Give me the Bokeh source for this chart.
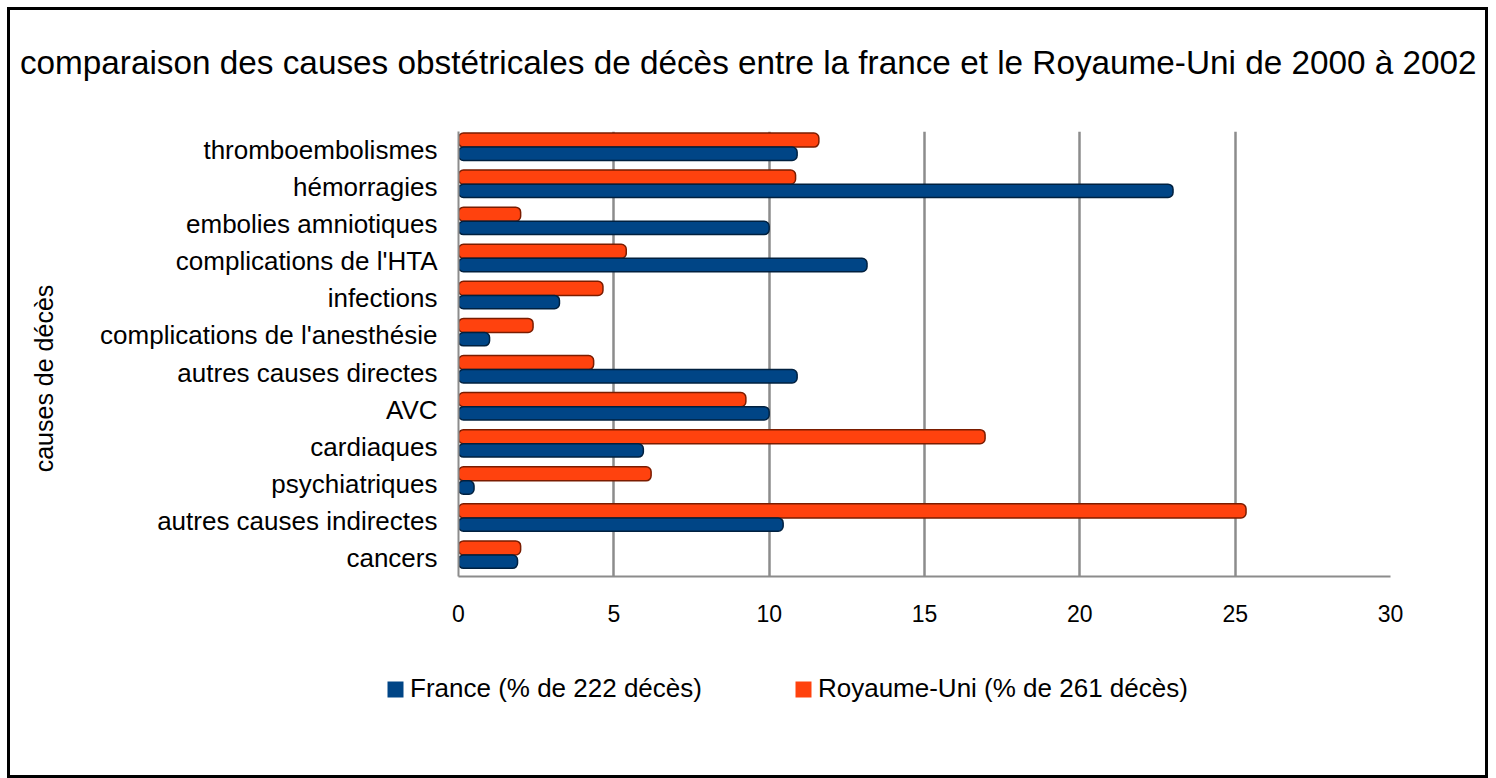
import math
from bokeh.plotting import figure
from bokeh.layouts import column, row
from bokeh.models import FactorRange, Range1d, ColumnDataSource, Legend, LegendItem, Label
from bokeh.transform import dodge
from bokeh.embed import file_html
from bokeh.resources import INLINE

categories = ["thromboembolismes", "hémorragies", "embolies amniotiques",
              "complications de l'HTA", "infections", "complications de l'anesthésie",
              "autres causes directes", "AVC", "cardiaques", "psychiatriques",
              "autres causes indirectes", "cancers"]
france = [10.9, 23.0, 10.0, 13.15, 3.25, 1.0, 10.9, 10.0, 5.95, 0.5, 10.45, 1.9]
royaume_uni = [11.6, 10.85, 2.0, 5.4, 4.65, 2.4, 4.35, 9.25, 16.95, 6.2, 25.35, 2.0]
x_ticks = [0, 5, 10, 15, 20, 25, 30]

title_text = "comparaison des causes obstétricales de décès  entre la france et le Royaume-Uni  de 2000 à 2002"
y_title = "causes de décès"
fr_label = "France (% de 222 décès)"
uk_label = "Royaume-Uni (% de 261 décès)"

FONT = "Liberation Sans"
BLUE = "#004586"
BLUE_DARK = "#00203f"
ORANGE = "#FF420E"
ORANGE_DARK = "#7a1c00"
GRID = "#8c8c8c"

src = ColumnDataSource(dict(cat=categories, fr=france, uk=royaume_uni))


def blank(width, height):
    f = figure(width=width, height=height, x_range=Range1d(0, 1), y_range=Range1d(0, 1),
               output_backend="svg", toolbar_location=None,
               x_axis_location=None, y_axis_location=None,
               min_border=0, min_border_left=0, min_border_right=0,
               min_border_top=0, min_border_bottom=0)
    f.grid.visible = False
    f.outline_line_color = None
    f.background_fill_color = "white"
    f.border_fill_color = "white"
    return f


# --- title strip
t = blank(1475, 90)
t.add_layout(Label(x=747, y=38, x_units="screen", y_units="screen", text=title_text,
                   text_font=FONT, text_font_size="33.3px", text_color="black",
                   text_align="center", text_baseline="middle"))

# --- y title strip
lab = blank(60, 540)
lab.add_layout(Label(x=33, y=198, x_units="screen", y_units="screen", text=y_title,
                     angle=math.pi / 2, text_font=FONT, text_font_size="25px",
                     text_color="black", text_align="center", text_baseline="middle"))

# --- main chart
p = figure(width=1415, height=540,
           y_range=FactorRange(*reversed(categories)), x_range=Range1d(0, 30),
           output_backend="svg", toolbar_location=None,
           min_border_left=388, min_border_right=95,
           min_border_top=31, min_border_bottom=64)
p.background_fill_color = "white"
p.border_fill_color = "white"
p.outline_line_color = None

uk_r = p.hbar(y=dodge("cat", 0.27, range=p.y_range), left=0, right="uk", height=0.38,
              source=src, fill_color=ORANGE, line_color=ORANGE_DARK, line_width=1.5,
              border_radius=5)
fr_r = p.hbar(y=dodge("cat", -0.1, range=p.y_range), left=0, right="fr", height=0.36,
              source=src, fill_color=BLUE, line_color=BLUE_DARK, line_width=1.5,
              border_radius=5)

p.xaxis.ticker = x_ticks
p.xaxis.major_label_text_font = FONT
p.xaxis.major_label_text_font_size = "23px"
p.xaxis.major_label_text_color = "black"
p.xaxis.major_label_standoff = 22
p.xaxis.major_tick_line_color = None
p.xaxis.minor_tick_line_color = None
p.xaxis.axis_line_color = GRID
p.xaxis.axis_line_width = 2

p.yaxis.major_label_text_font = FONT
p.yaxis.major_label_text_font_size = "26px"
p.yaxis.major_label_text_color = "black"
p.yaxis.major_label_standoff = 15
p.yaxis.major_tick_line_color = None
p.yaxis.minor_tick_line_color = None
p.yaxis.axis_line_color = GRID
p.yaxis.axis_line_width = 2

p.ygrid.grid_line_color = None
p.xgrid.grid_line_color = GRID
p.xgrid.grid_line_width = 2.5

# --- legend strip (swatches come from hidden renderers sharing the chart's data)
q = figure(width=1475, height=135, x_range=Range1d(1000, 1001),
           y_range=FactorRange(*reversed(categories)),
           output_backend="svg", toolbar_location=None,
           x_axis_location=None, y_axis_location=None,
           min_border=0, min_border_left=0, min_border_right=0,
           min_border_top=0, min_border_bottom=0)
q.grid.visible = False
q.outline_line_color = None
q.background_fill_color = "white"
q.border_fill_color = "white"
q_fr = q.hbar(y="cat", left=0, right="fr", height=0.4, source=src,
              fill_color=BLUE, line_color=None, visible=False)
q_uk = q.hbar(y="cat", left=0, right="uk", height=0.4, source=src,
              fill_color=ORANGE, line_color=None, visible=False)
legend = Legend(items=[LegendItem(label=fr_label, renderers=[q_fr]),
                       LegendItem(label=uk_label, renderers=[q_uk])],
                orientation="horizontal", location=(375, 71),
                padding=0, margin=0, spacing=91, label_standoff=5,
                glyph_width=20, glyph_height=20,
                label_text_font=FONT, label_text_font_size="26px",
                label_text_color="black", inactive_fill_alpha=0,
                border_line_color=None, background_fill_alpha=0)
q.add_layout(legend, "center")

layout = column(t, row(lab, p), q)
layout.styles = {"border": "3px solid black", "margin-left": "7px", "margin-top": "7px"}

open("out.html", "w").write(file_html(layout, INLINE))
